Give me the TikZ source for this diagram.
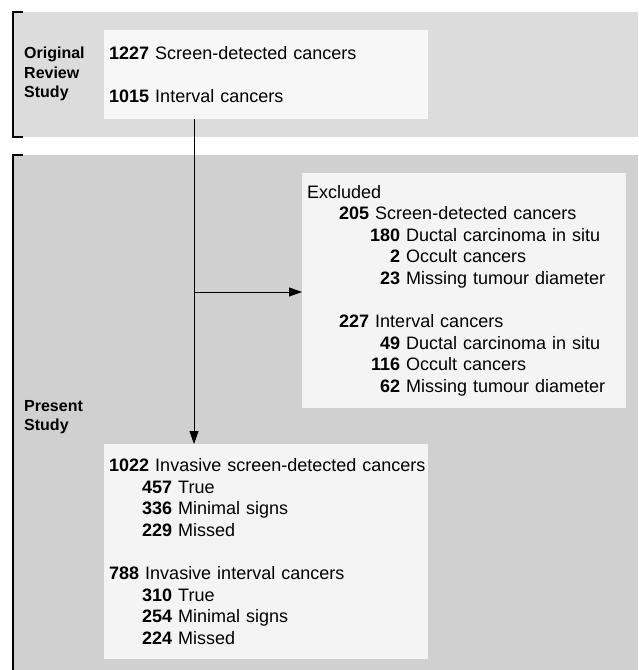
\documentclass[tikz,border=0pt]{standalone}
\usepackage{fontspec}
\setmainfont{Liberation Sans}
\usetikzlibrary{arrows.meta,calc}
\definecolor{bandtop}{HTML}{DCDCDC}
\definecolor{bandlow}{HTML}{D0D0D0}
\definecolor{boxfill}{HTML}{F4F4F4}
\definecolor{boxlight}{HTML}{F7F7F7}
\newcommand\SubNum[1]{\makebox[93pt][r]{\bfseries #1}}

\begin{document}
\begin{tikzpicture}[x=1pt,y=-1pt,
    databox/.style={fill=boxfill,draw=none,anchor=north west,align=left,
      text width=314pt,inner xsep=5pt,inner ysep=0pt,
      font=\fontsize{18}{21.6}\selectfont},
    studylabel/.style={anchor=west,align=left,inner sep=4pt,
      font=\fontsize{16}{19.5}\selectfont\bfseries},
    flowarrow/.style={line width=0.9pt,-{Triangle[length=13pt,width=9pt]}}]

	\useasboundingbox (0,0) rectangle (638,670);

	% the two bands
	\fill[bandtop] (13,12) rectangle (638,137);
	\fill[bandlow] (13,155) rectangle (638,670);
	\draw[line width=2pt] (23,12) -- (13,12) -- (13,137) -- (23,137);
	\draw[line width=2pt] (23,155) -- (13,155) -- (13,670);

	% band labels
	\node[studylabel] (origlabel) at (20,74) {Original\\Review\\Study};
	\node[studylabel] (presentlabel) at (20,417) {Present\\Study};

	% the boxes
	\node[databox,fill=boxlight,minimum height=89pt] (origbox) at (104,30)
	  {\textbf{1227} Screen-detected cancers\\[21.6pt]
	   \textbf{1015} Interval cancers};
	\node[databox,minimum height=235pt] (exclbox) at (302,173)
	  {Excluded\\
	   \hspace*{32pt}\textbf{205} Screen-detected cancers\\
	   \SubNum{180} Ductal carcinoma in situ\\
	   \SubNum{2} Occult cancers\\
	   \SubNum{23} Missing tumour diameter\\[21.6pt]
	   \hspace*{32pt}\textbf{227} Interval cancers\\
	   \SubNum{49} Ductal carcinoma in situ\\
	   \SubNum{116} Occult cancers\\
	   \SubNum{62} Missing tumour diameter};
	\node[databox,minimum height=215pt] (finalbox) at (104,444)
	  {\mbox{\textbf{1022} Invasive screen-detected cancers}\\
	   \hspace*{33pt}\textbf{457} True\\
	   \hspace*{33pt}\textbf{336} Minimal signs\\
	   \hspace*{33pt}\textbf{229} Missed\\[21.6pt]
	   \textbf{788} Invasive interval cancers\\
	   \hspace*{33pt}\textbf{310} True\\
	   \hspace*{33pt}\textbf{254} Minimal signs\\
	   \hspace*{33pt}\textbf{224} Missed};

	% the arrows
	\coordinate (branch) at (194,292);
	\draw[flowarrow] (origbox.south -| branch) -- (finalbox.north -| branch);
	\draw[flowarrow] (branch) -- (exclbox.west |- branch);
\end{tikzpicture}
\end{document}
